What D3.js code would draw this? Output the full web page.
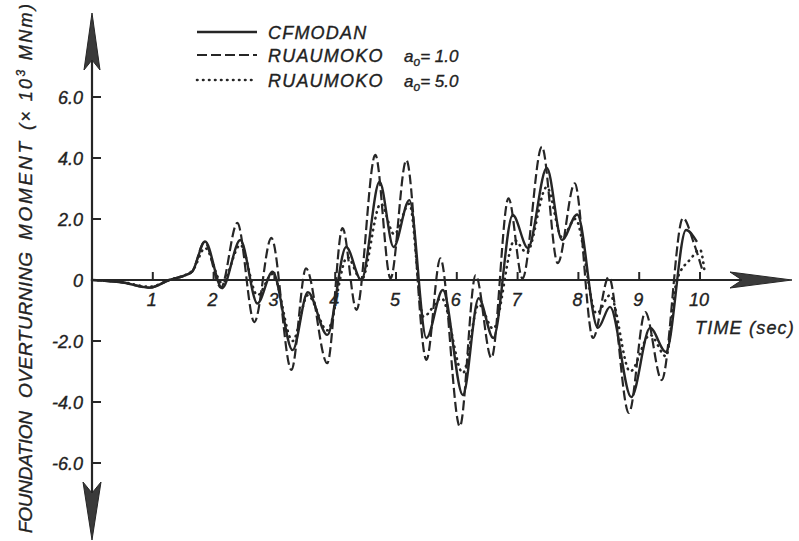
<!DOCTYPE html>
<html>
<head>
<meta charset="utf-8">
<script src="https://cdn.jsdelivr.net/npm/d3@7"></script>
<style>
  body { margin: 0; background: #fff; }
  text { font-family: "Liberation Sans", Arial, sans-serif; font-style: italic; fill: #222; stroke: #222; stroke-width: 0.35px; }
</style>
</head>
<body>
<svg id="chart" width="799" height="541"></svg>
<script>
// Axis ticks
const yTicks = [6, 4, 2, 0, -2, -4, -6];
const yTickLabels = ["6.0", "4.0", "2.0", "0", "-2.0", "-4.0", "-6.0"];
const xTicks = [1, 2, 3, 4, 5, 6, 7, 8, 9, 10];

// Foundation overturning moment (x 10^3 MNm) vs time (sec): [time, moment] at turning points
const cfmodan = [
  [0, 0], [0.5, -0.08], [0.95, -0.25], [1.27, 0], [1.55, 0.17], [1.65, 0.28],
  [1.86, 1.26], [2.14, -0.27], [2.44, 1.31], [2.72, -0.77], [2.97, 0.27],
  [3.3, -2.3], [3.55, -0.4], [3.87, -1.8], [4.18, 1.08], [4.43, 0.0],
  [4.73, 3.22], [4.96, 1.08], [5.22, 2.62], [5.5, -1.9], [5.77, -0.33],
  [6.1, -3.77], [6.36, -0.6], [6.6, -1.9], [6.92, 2.13], [7.17, 1.05],
  [7.48, 3.67], [7.73, 1.31], [7.98, 2.15], [8.32, -1.57], [8.52, -0.88],
  [8.87, -3.84], [9.18, -1.57], [9.44, -2.36], [9.77, 1.64], [9.95, 1.25]
];
const ruaumoko1 = [
  [0, 0], [0.5, -0.08], [0.95, -0.25], [1.27, 0], [1.55, 0.17], [1.65, 0.28],
  [1.85, 1.25], [2.12, -0.25], [2.39, 1.87], [2.67, -1.38], [2.95, 1.38],
  [3.28, -2.95], [3.52, 0.38], [3.87, -2.73], [4.12, 1.7], [4.35, -0.98],
  [4.66, 4.1], [4.91, 0.05], [5.17, 3.93], [5.5, -2.62], [5.73, 0.71],
  [6.05, -4.8], [6.31, 0.16], [6.57, -2.56], [6.85, 2.68], [7.08, 0.05],
  [7.4, 4.37], [7.66, 0.55], [7.94, 3.17], [8.24, -1.9], [8.5, 0.1],
  [8.83, -4.36], [9.1, -1.05], [9.37, -3.28], [9.72, 2.03], [9.9, 1.2], [10.05, 0.25]
];
const ruaumoko5 = [
  [0, 0], [0.5, -0.07], [0.95, -0.22], [1.27, 0], [1.65, 0.3],
  [1.86, 1.05], [2.14, -0.1], [2.44, 1.15], [2.72, -0.5], [2.97, 0.2],
  [3.3, -2.0], [3.55, -0.5], [3.87, -1.65], [4.2, 0.75], [4.43, 0.0],
  [4.75, 2.5], [4.97, 1.5], [5.22, 2.5], [5.45, -1.2], [5.75, -0.6],
  [6.1, -3.05], [6.36, -0.8], [6.6, -1.6], [6.95, 1.3], [7.15, 0.9],
  [7.48, 3.05], [7.73, 1.4], [7.95, 2.0], [8.3, -1.1], [8.52, -0.5],
  [8.85, -3.0], [9.18, -1.8], [9.44, -2.5], [9.62, 0], [9.85, 0.7],
  [10.0, 1.0], [10.08, 0.2]
];

const legendNames = ["CFMODAN", "RUAUMOKO", "RUAUMOKO"];
const legendParams = [null, "1.0", "5.0"];

const ink = "#262626";
const svg = d3.select("#chart");

const x = d3.scaleLinear().domain([0, 10]).range([92, 700]);
const y = d3.scaleLinear().domain([-6, 6]).range([463, 97]);
const x0 = x(0), y0 = y(0);

// Axis lines
svg.append("line").attr("x1", x0).attr("x2", x0).attr("y1", 20).attr("y2", 532)
  .attr("stroke", ink).attr("stroke-width", 2.2);
svg.append("line").attr("x1", x0).attr("x2", 780).attr("y1", y0).attr("y2", y0)
  .attr("stroke", ink).attr("stroke-width", 2.2);

// Arrowheads: long narrow heads with notched backs
const arrowTop = `M${x0},13 L${x0 + 8},70 L${x0},60 L${x0 - 8},70 Z`;
const arrowBottom = `M${x0},540 L${x0 + 9},482 L${x0},493 L${x0 - 9},482 Z`;
const arrowRight = `M792,${y0} L730,${y0 - 8} L742,${y0} L730,${y0 + 8} Z`;
[arrowTop, arrowBottom, arrowRight].forEach(p =>
  svg.append("path").attr("d", p).attr("fill", "#3a3a3a").attr("stroke", ink).attr("stroke-width", 1));

// Y ticks and labels
const yAx = svg.append("g");
yTicks.forEach((t, i) => {
  if (t !== 0) {
    yAx.append("line").attr("x1", x0).attr("x2", x0 + 9).attr("y1", y(t)).attr("y2", y(t))
      .attr("stroke", ink).attr("stroke-width", 2);
  }
  yAx.append("text").attr("x", 83).attr("y", y(t) + 6.5).attr("text-anchor", "end")
    .attr("font-size", 18).text(yTickLabels[i]);
});

// X ticks and labels
const xAx = svg.append("g");
xTicks.forEach(t => {
  xAx.append("line").attr("x1", x(t)).attr("x2", x(t)).attr("y1", y0).attr("y2", y0 - 8)
    .attr("stroke", ink).attr("stroke-width", 2);
  xAx.append("text").attr("x", x(t) - 1).attr("y", y0 + 26).attr("text-anchor", "middle")
    .attr("font-size", 18).text(t);
});

svg.append("text").attr("x", 695).attr("y", 334).attr("font-size", 18)
  .attr("letter-spacing", 1.2).text("TIME (sec)");

// Y axis title, rotated, word by word
const titleWords = [
  { s: "FOUNDATION", start: 533, len: 122 },
  { s: "OVERTURNING", start: 398, len: 146 },
  { s: "MOMENT", start: 240, len: 98 }
];
titleWords.forEach(w => {
  svg.append("text").attr("transform", `translate(32,${w.start}) rotate(-90)`)
    .attr("font-size", 19).attr("textLength", w.len).attr("lengthAdjust", "spacing")
    .text(w.s);
});
const unit = svg.append("text").attr("transform", "translate(32,130) rotate(-90)")
  .attr("font-size", 18).attr("textLength", 126).attr("lengthAdjust", "spacing");
unit.append("tspan").text("(\u00d7 10");
unit.append("tspan").attr("dy", -7).attr("font-size", 12).text("3");
unit.append("tspan").attr("dy", 7).text(" MNm)");

// Curves
const line = d3.line().x(d => x(d[0])).y(d => y(d[1])).curve(d3.curveMonotoneX);
const styles = [
  { data: cfmodan, dash: null, width: 2.4, cap: "butt" },
  { data: ruaumoko1, dash: "10,4", width: 2.2, cap: "butt" },
  { data: ruaumoko5, dash: "0.5,5.5", width: 2.6, cap: "round" }
];
styles.forEach(s => {
  svg.append("path").datum(s.data).attr("d", line)
    .attr("fill", "none").attr("stroke", ink).attr("stroke-width", s.width)
    .attr("stroke-dasharray", s.dash).attr("stroke-linecap", s.cap)
    .attr("stroke-linejoin", "round");
});

// Legend
const legendY = [32, 55, 80];
legendNames.forEach((name, i) => {
  const st = styles[i];
  svg.append("line").attr("x1", 197).attr("x2", 257).attr("y1", legendY[i]).attr("y2", legendY[i])
    .attr("stroke", ink).attr("stroke-width", st.width)
    .attr("stroke-dasharray", st.dash).attr("stroke-linecap", st.cap);
  svg.append("text").attr("x", 268).attr("y", legendY[i] + 7).attr("font-size", 18)
    .attr("letter-spacing", 1.2).text(name);
  if (legendParams[i]) {
    const t = svg.append("text").attr("x", 404).attr("y", legendY[i] + 7).attr("font-size", 17);
    t.append("tspan").text("a");
    t.append("tspan").attr("dy", 4).attr("font-size", 12).text("o");
    t.append("tspan").attr("dy", -4).text("= " + legendParams[i]);
  }
});
</script>
</body>
</html>
